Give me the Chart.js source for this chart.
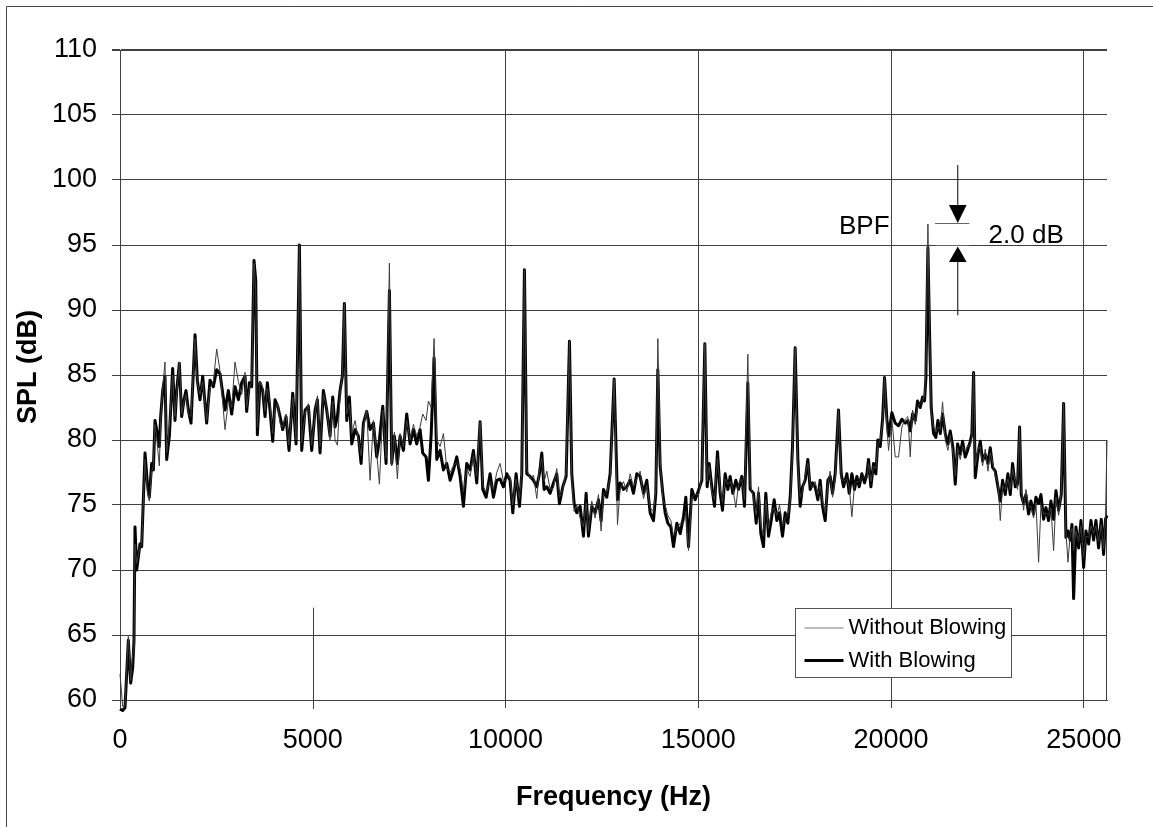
<!DOCTYPE html>
<html>
<head>
<meta charset="utf-8">
<script src="https://cdn.jsdelivr.net/npm/chart.js@4.4.1/dist/chart.umd.min.js"></script>
<style>
html,body{margin:0;padding:0;background:#fff;}
#wrap{width:1153px;height:827px;}
</style>
</head>
<body>
<div id="wrap"><canvas id="c" width="1153" height="827"></canvas></div>
<script>
// ---- data ----
const freqs = [
0,69,130,216,277,329,363,389,432,519,562,649,709,761,822,865,908,951,1020,1055,
1107,1167,1211,1280,1366,1427,1470,1539,1600,1660,1712,1773,1842,1946,2006,2075,2145,2248,2335,2421,
2508,2594,2724,2811,2897,2983,3070,3156,3243,3286,3355,3416,3476,3520,3563,3632,3701,3762,3822,3891,
3961,4021,4090,4151,4220,4307,4384,4480,4566,4653,4713,4800,4886,4973,5059,5120,5189,5275,5362,5448,
5518,5578,5639,5708,5768,5820,5881,5950,6010,6097,6183,6253,6313,6400,6486,6573,6659,6728,6815,6901,
6988,7048,7117,7195,7264,7351,7437,7524,7610,7697,7783,7852,7939,7999,8069,8147,8216,8302,8389,8475,
8562,8648,8735,8821,8907,8994,9080,9167,9253,9340,9409,9496,9599,9686,9772,9858,9945,10032,10118,10188,
10274,10361,10421,10490,10551,10637,10724,10810,10879,10940,11000,11070,11156,11243,11329,11398,11485,11571,11658,11718,
11779,11848,11935,12021,12090,12151,12237,12324,12410,12479,12540,12626,12713,12817,12903,12972,13059,13145,13232,13318,
13405,13491,13578,13664,13751,13837,13898,13950,14010,14079,14140,14209,14287,14356,14443,14529,14616,14676,14745,14832,
14918,15013,15091,15169,15229,15281,15350,15420,15497,15567,15627,15696,15766,15826,15895,15973,16042,16129,16198,16284,
16345,16431,16501,16561,16622,16691,16751,16821,16890,16968,17037,17106,17184,17253,17322,17383,17443,17512,17582,17642,
17703,17772,17841,17901,17962,18031,18100,18161,18221,18291,18360,18420,18481,18550,18636,18706,18766,18853,18913,18983,
19052,19112,19173,19242,19311,19372,19415,19476,19545,19605,19657,19718,19779,19830,19891,19934,20021,20107,20194,20280,
20366,20436,20497,20557,20626,20687,20756,20817,20868,20903,20955,20998,21041,21102,21162,21214,21275,21335,21405,21474,
21534,21604,21664,21725,21794,21854,21923,21984,22053,22096,22140,22183,22252,22313,22373,22442,22512,22572,22633,22702,
22771,22832,22892,22961,23030,23091,23151,23221,23281,23333,23376,23437,23497,23567,23627,23696,23757,23826,23887,23956,
24016,24085,24146,24215,24276,24345,24414,24475,24535,24587,24648,24691,24734,24795,24864,24925,24994,25054,25123,25184,
25253,25313,25382,25451,25512,25560,25600
];

const withoutBlowing = [
62.0,59.5,59.6,64.9,61.5,63.5,64.0,72.0,70.5,71.8,72.0,78.5,76.0,75.3,77.6,78.0,81.2,80.2,78.0,81.5,
84.0,86.0,79.0,81.0,85.0,81.8,83.5,86.0,82.0,83.0,83.5,82.0,81.8,87.8,84.3,83.5,84.5,81.5,84.0,84.5,
87.0,85.3,80.8,83.0,82.5,86.0,84.5,83.5,85.2,82.5,84.0,84.5,93.6,91.5,81.0,84.5,84.0,82.2,84.0,82.8,
80.5,82.5,82.8,81.3,81.0,82.0,79.6,83.3,80.0,95.0,79.8,82.0,82.8,79.6,82.0,83.4,79.5,83.5,82.5,80.0,
83.0,80.0,79.6,83.5,85.0,90.5,82.0,82.8,80.5,81.5,80.0,78.8,81.0,82.3,76.9,81.5,79.0,76.6,82.3,78.6,
93.6,78.0,80.6,77.0,80.5,79.5,81.5,80.0,81.2,80.3,81.0,82.0,81.5,83.0,82.5,87.8,80.0,79.5,80.5,77.8,
77.5,78.0,78.3,77.8,76.0,77.8,77.2,78.8,77.2,81.4,76.5,76.0,76.8,76.2,77.5,78.2,76.8,77.0,77.2,75.0,
77.0,75.5,77.6,93.1,77.8,77.0,77.3,75.5,77.8,78.6,76.8,77.6,76.2,76.3,77.8,75.6,76.2,77.6,87.6,77.0,
74.5,75.0,74.0,73.3,75.2,73.0,75.3,74.0,75.8,73.0,75.8,76.0,77.0,84.7,73.5,76.3,76.8,76.0,77.4,76.4,
77.0,77.6,75.5,76.5,74.8,74.5,76.2,87.8,78.6,75.4,75.0,74.2,73.8,72.6,73.2,73.6,73.6,74.5,71.5,75.6,
75.8,75.8,77.2,87.4,76.8,78.0,76.0,75.4,78.6,76.3,75.2,77.0,76.6,76.8,76.3,74.8,76.6,77.0,75.4,86.6,
76.6,75.5,74.2,76.4,73.4,72.6,75.4,73.2,74.4,74.8,74.2,75.0,73.4,74.0,74.2,75.2,79.0,87.1,78.0,75.6,
76.0,77.3,78.2,76.6,76.3,76.8,75.8,76.5,75.3,74.4,76.6,77.6,75.6,77.0,82.3,77.0,76.8,77.0,76.4,74.1,
76.6,76.8,76.8,77.0,77.2,77.0,78.2,76.8,78.0,77.8,79.6,80.0,81.2,84.8,81.0,79.2,81.6,78.7,78.7,81.0,
81.6,81.8,78.7,82.3,81.2,82.6,82.8,83.0,83.4,85.5,96.6,88.5,82.0,81.0,80.6,81.0,80.8,82.9,80.0,79.2,
80.4,79.0,77.2,79.4,78.5,79.5,79.1,79.6,79.5,80.2,85.2,78.0,79.3,79.5,78.0,79.3,77.6,79.0,78.3,77.2,
76.8,73.8,76.5,76.2,77.0,76.2,77.8,76.8,76.2,81.0,76.2,74.6,76.2,74.8,74.9,74.0,75.2,70.6,75.0,74.3,
74.4,74.2,74.8,71.5,75.6,74.2,76.0,82.8,73.0,70.6,72.8,73.2,71.5,73.0,72.2,73.4,71.0,72.6,72.5,73.4,
72.8,73.4,72.2,73.5,71.6,74.0,80.0
];

const withBlowing = [
59.3,59.2,59.4,64.6,61.3,62.5,64.6,73.3,70.0,72.0,71.8,79.0,76.7,75.6,78.2,77.7,81.5,80.8,79.5,81.8,
83.8,84.9,78.5,80.3,85.5,81.5,83.8,85.9,81.8,83.1,83.8,82.3,81.3,88.1,84.6,83.1,84.9,81.3,84.6,84.1,
85.4,85.1,82.3,83.8,82.0,84.1,83.1,84.4,84.9,82.2,84.4,84.1,93.8,92.3,80.4,84.4,83.8,81.8,84.4,82.3,
79.9,83.1,82.6,81.8,80.8,81.8,79.2,83.6,79.7,95.0,79.2,82.3,82.6,79.2,82.3,83.1,79.0,83.8,82.3,80.3,
83.3,81.0,81.8,83.8,84.9,90.5,81.5,83.3,79.7,80.8,80.3,78.2,81.3,82.2,80.8,81.3,78.7,80.0,82.6,78.2,
91.5,78.2,80.3,78.2,80.3,79.2,82.0,79.7,80.8,79.7,80.8,79.0,78.7,76.9,80.3,86.3,78.5,79.2,77.7,78.2,
76.9,77.7,78.7,77.2,74.9,78.2,77.7,79.2,76.7,81.4,76.2,75.6,77.4,75.6,76.9,77.0,76.4,77.4,76.9,74.4,
77.4,74.9,77.4,93.1,77.4,77.2,76.9,76.4,77.4,79.0,76.2,76.4,75.9,76.7,77.4,75.1,76.4,77.2,87.6,77.4,
75.1,74.4,74.9,72.6,75.9,72.6,74.9,74.4,75.4,73.8,76.2,75.6,77.4,84.7,75.4,76.7,76.2,76.4,76.9,75.9,
77.4,77.2,75.9,76.9,74.4,73.8,75.9,85.4,78.0,75.9,74.4,73.6,73.3,71.8,73.6,72.8,74.1,75.6,71.8,76.2,
75.4,76.2,76.9,87.4,76.4,78.2,76.4,74.9,79.1,75.9,74.6,77.4,76.2,77.2,75.9,76.9,76.2,77.2,74.9,84.4,
76.2,75.9,73.6,75.9,72.8,71.8,75.9,72.6,73.8,75.4,73.8,74.4,72.6,74.4,73.6,75.6,79.5,87.1,78.5,74.9,
76.4,76.9,78.5,76.2,76.7,76.4,75.4,76.9,74.9,73.8,76.9,77.2,75.9,77.4,82.3,77.4,76.4,77.4,75.9,77.4,
76.2,77.2,76.4,77.4,76.7,77.4,78.5,76.4,78.2,77.4,80.0,79.5,81.6,84.8,81.6,80.3,82.1,81.3,81.1,81.6,
81.3,81.5,80.7,82.0,81.5,83.0,82.5,83.3,83.0,84.8,94.8,88.2,82.5,80.5,80.2,81.5,80.5,82.0,80.5,79.7,
80.7,79.4,76.6,79.7,78.9,79.9,78.7,79.2,79.9,80.5,85.2,77.1,78.9,79.9,78.4,78.9,78.2,79.4,77.9,77.6,
76.4,75.3,76.9,75.8,77.4,75.8,78.2,76.4,76.6,81.0,75.8,75.1,75.8,74.3,75.3,74.3,75.6,75.1,75.8,73.9,
74.8,73.8,75.3,73.9,76.1,74.6,75.8,82.8,72.5,73.0,72.3,73.5,67.8,73.3,71.7,73.8,70.2,73.0,72.0,73.8,
72.3,73.8,71.7,73.9,71.2,73.9,74.2
];

const seriesNames = ['Without Blowing', 'With Blowing'];
const xTickValues = [0, 5000, 10000, 15000, 20000, 25000];
const yTickValues = [60, 65, 70, 75, 80, 85, 90, 95, 100, 105, 110];
const xTitle = 'Frequency (Hz)';
const yTitle = 'SPL (dB)';

// ---- styling ----
const FONT = "'Liberation Sans', Arial, sans-serif";
const GRID = '#404040';
const THIN = '#3c3c3c';
const THIN_KEY = '#7a7a7a';

Chart.defaults.font.family = FONT;
Chart.defaults.color = '#000';

const pts = vals => freqs.map((f, i) => ({x: f, y: vals[i]}));

const decoPlugin = {
  id: 'deco',
  beforeDraw(chart) {
    const {ctx, width, height} = chart;
    ctx.save();
    ctx.fillStyle = '#fff';
    ctx.fillRect(0, 0, width, height);
    ctx.strokeStyle = '#444';
    ctx.lineWidth = 1;
    ctx.beginPath();
    ctx.moveTo(6.5, height);
    ctx.lineTo(6.5, 6.5);
    ctx.lineTo(width, 6.5);
    ctx.stroke();
    ctx.restore();
  },
  beforeDatasetsDraw(chart) {
    const {ctx} = chart;
    const xs = chart.scales.x, ys = chart.scales.y;
    ctx.save();
    ctx.strokeStyle = GRID;
    ctx.lineWidth = 1;
    // short stub of the 5000 Hz grid line
    const px = Math.round(xs.getPixelForValue(5000)) + 0.5;
    ctx.beginPath();
    ctx.moveTo(px, ys.getPixelForValue(67.1));
    ctx.lineTo(px, ys.bottom + 9);
    ctx.stroke();
    // partial right edge
    const rx = Math.round(xs.right) - 0.5;
    ctx.beginPath();
    ctx.moveTo(rx, ys.getPixelForValue(80));
    ctx.lineTo(rx, ys.bottom);
    ctx.stroke();
    ctx.restore();
  },
  afterDraw(chart) {
    const {ctx, chartArea} = chart;
    const xs = chart.scales.x, ys = chart.scales.y;
    ctx.save();
    // ---- y axis title (rotated) ----
    ctx.save();
    ctx.translate(29, (chartArea.top + chartArea.bottom) / 2 - 8);
    ctx.rotate(-Math.PI / 2);
    ctx.font = 'bold 27px ' + FONT;
    ctx.fillStyle = '#000';
    ctx.textAlign = 'center';
    ctx.textBaseline = 'middle';
    ctx.fillText(yTitle, 0, 0);
    ctx.restore();

    // ---- BPF annotation ----
    const ax = xs.getPixelForValue(21730);
    const hw = 8.8;
    const yTopLine = ys.getPixelForValue(101.15);
    const yHi = ys.getPixelForValue(96.7);
    const yLo = ys.getPixelForValue(95.0);
    const yBottom = ys.getPixelForValue(89.6);
    const x1 = xs.getPixelForValue(21140), x2 = xs.getPixelForValue(22030);
    ctx.strokeStyle = '#000';
    ctx.lineWidth = 1;
    ctx.beginPath();
    ctx.moveTo(ax, yTopLine); ctx.lineTo(ax, yHi - 18);
    ctx.moveTo(ax, yLo + 17); ctx.lineTo(ax, yBottom);
    ctx.stroke();
    ctx.fillStyle = '#000';
    ctx.beginPath();
    ctx.moveTo(ax - hw, yHi - 18); ctx.lineTo(ax + hw, yHi - 18); ctx.lineTo(ax, yHi); ctx.closePath();
    ctx.fill();
    ctx.beginPath();
    ctx.moveTo(ax - hw, yLo + 17); ctx.lineTo(ax + hw, yLo + 17); ctx.lineTo(ax, yLo + 1.5); ctx.closePath();
    ctx.fill();
    ctx.strokeStyle = '#666';
    ctx.beginPath();
    ctx.moveTo(x1, Math.round(yHi) + 0.5); ctx.lineTo(x2, Math.round(yHi) + 0.5);
    ctx.moveTo(x1, Math.round(yLo) + 0.5); ctx.lineTo(x2, Math.round(yLo) + 0.5);
    ctx.stroke();
    ctx.font = '26px ' + FONT;
    ctx.fillStyle = '#000';
    ctx.textBaseline = 'alphabetic';
    ctx.textAlign = 'right';
    ctx.fillText('BPF', xs.getPixelForValue(19960), ys.getPixelForValue(95.85));
    ctx.textAlign = 'left';
    ctx.fillText('2.0 dB', xs.getPixelForValue(22528), ys.getPixelForValue(95.13));

    // ---- legend box ----
    const L = Math.round(chartArea.right - 312) + 0.5;
    const T = Math.round(chartArea.bottom - 92) + 0.5;
    const W = 216, H = 69;
    ctx.fillStyle = '#fff';
    ctx.fillRect(L, T, W, H);
    ctx.strokeStyle = '#555';
    ctx.lineWidth = 1;
    ctx.strokeRect(L, T, W, H);
    const rows = [
      {label: seriesNames[0], color: THIN_KEY, width: 1, y: T + 19},
      {label: seriesNames[1], color: '#000', width: 3, y: T + 52}
    ];
    ctx.font = '22px ' + FONT;
    ctx.textAlign = 'left';
    ctx.textBaseline = 'middle';
    rows.forEach(r => {
      ctx.strokeStyle = r.color;
      ctx.lineWidth = r.width;
      ctx.beginPath();
      ctx.moveTo(L + 9, r.y + (r.width === 1 ? 0.5 : 0));
      ctx.lineTo(L + 48, r.y + (r.width === 1 ? 0.5 : 0));
      ctx.stroke();
      ctx.fillStyle = '#000';
      ctx.fillText(r.label, L + 53, r.y);
    });
    ctx.restore();
  }
};

new Chart(document.getElementById('c'), {
  type: 'line',
  data: {
    datasets: [
      {
        label: seriesNames[0],
        data: pts(withoutBlowing),
        borderColor: THIN,
        borderWidth: 1,
        pointRadius: 0,
        tension: 0,
        borderJoinStyle: 'round',
        clip: false
      },
      {
        label: seriesNames[1],
        data: pts(withBlowing),
        borderColor: '#000',
        borderWidth: 3,
        pointRadius: 0,
        tension: 0,
        borderJoinStyle: 'round',
        clip: false
      }
    ]
  },
  options: {
    responsive: false,
    animation: false,
    devicePixelRatio: 1,
    layout: {padding: {top: 50, right: 46, bottom: 0, left: 0}},
    plugins: {legend: {display: false}, tooltip: {enabled: false}},
    scales: {
      x: {
        type: 'linear',
        min: 0,
        max: 25600,
        afterBuildTicks: s => { s.ticks = xTickValues.map(v => ({value: v})); },
        afterFit: s => { s.height = 127; },
        ticks: {
          font: {size: 27},
          color: '#000',
          padding: 16,
          maxRotation: 0,
          autoSkip: false,
          callback: v => String(v)
        },
        grid: {
          color: c => (c.tick && c.tick.value === 5000) ? 'rgba(0,0,0,0)' : GRID,
          lineWidth: 1,
          tickLength: 8,
          drawTicks: true
        },
        border: {display: true, color: GRID, width: 1},
        title: {
          display: true,
          text: xTitle,
          font: {size: 27, weight: 'bold'},
          color: '#000',
          padding: {top: 0, bottom: 13}
        }
      },
      y: {
        type: 'linear',
        min: 60,
        max: 110,
        afterBuildTicks: s => { s.ticks = yTickValues.map(v => ({value: v})); },
        afterFit: s => { s.width = 120; },
        ticks: {
          font: {size: 27},
          color: '#000',
          padding: 15,
          autoSkip: false,
          callback: v => String(v)
        },
        grid: {
          color: GRID,
          lineWidth: c => (c.tick && c.tick.value === 110) ? 2 : 1,
          tickLength: 8,
          drawTicks: true
        },
        border: {display: true, color: GRID, width: 1},
        title: {display: false}
      }
    }
  },
  plugins: [decoPlugin]
});
</script>
</body>
</html>
